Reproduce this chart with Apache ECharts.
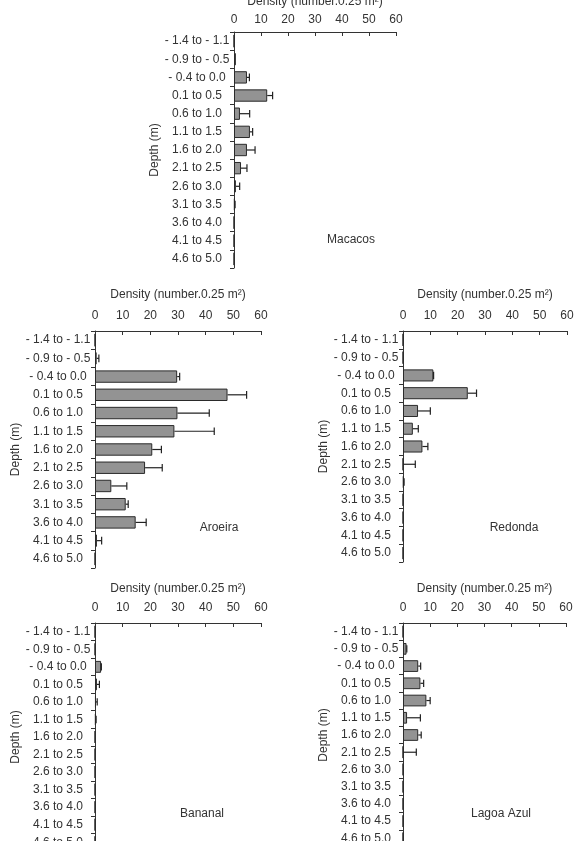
<!DOCTYPE html>
<html>
<head>
<meta charset="utf-8">
<script src="https://cdn.jsdelivr.net/npm/echarts@6/dist/echarts.min.js"></script>
<style>
html,body{margin:0;padding:0;background:#fff;}
#chart{width:577px;height:841px;}
</style>
</head>
<body>
<div id="chart"></div>
<script>
// ---- data ----
const depths = ['- 1.4 to - 1.1', '- 0.9 to - 0.5', '- 0.4 to 0.0', '0.1 to 0.5', '0.6 to 1.0', '1.1 to 1.5', '1.6 to 2.0', '2.1 to 2.5', '2.6 to 3.0', '3.1 to 3.5', '3.6 to 4.0', '4.1 to 4.5', '4.6 to 5.0'];
const xTicks = [0, 10, 20, 30, 40, 50, 60];
const sites = ['Macacos', 'Aroeira', 'Redonda', 'Bananal', 'Lagoa Azul'];

const macacosMean = [0, 0.7, 4.8, 12.3, 2.2, 5.9, 4.8, 2.6, 0.7, 0.3, 0, 0, 0];
const macacosErr  = [0, 0, 0.9, 2.0, 3.6, 1.0, 3.0, 2.2, 1.4, 0.1, 0, 0, 0];

const aroeiraMean = [0, 0.6, 29.7, 47.9, 29.8, 28.7, 20.7, 18.1, 5.9, 11.1, 14.7, 0.7, 0];
const aroeiraErr  = [0, 0.8, 0.9, 6.9, 11.5, 14.4, 3.3, 6.2, 5.6, 0.9, 3.8, 1.7, 0];

const redondaMean = [0, 0, 11.1, 23.7, 5.5, 3.6, 7.1, 0, 0.25, 0, 0, 0, 0];
const redondaErr  = [0, 0, 0.1, 3.2, 4.5, 2.0, 2.0, 4.5, 0.15, 0, 0, 0, 0];

const bananalMean = [0, 0, 2.2, 0.7, 0.35, 0.3, 0, 0, 0, 0, 0, 0, 0];
const bananalErr  = [0, 0, 0.1, 0.9, 0.45, 0.1, 0, 0, 0, 0, 0, 0, 0];

const lagoaMean = [0, 1.3, 5.6, 6.4, 8.6, 1.5, 5.6, 0, 0, 0, 0, 0, 0];
const lagoaErr  = [0, 0.1, 0.9, 1.2, 1.4, 4.9, 1.1, 4.9, 0, 0, 0, 0, 0];

const means = [macacosMean, aroeiraMean, redondaMean, bananalMean, lagoaMean];
const errs = [macacosErr, aroeiraErr, redondaErr, bananalErr, lagoaErr];

// ---- layout ----
const FONT = '"Liberation Sans", Arial, Helvetica, sans-serif';
const TXT = '#333';
const grids = [
  {left: 234, top: 32, width: 162, height: 236, labelMargin: 6, nameGap: 24, yNameGap: 59, siteX: 351, siteY: 240},
  {left: 95, top: 331, width: 166, height: 237, labelMargin: 9, nameGap: 30, yNameGap: 63, siteX: 219, siteY: 528},
  {left: 403, top: 331, width: 164, height: 231, labelMargin: 9, nameGap: 30, yNameGap: 71, siteX: 514, siteY: 528},
  {left: 95, top: 623, width: 166, height: 228, labelMargin: 9, nameGap: 28, yNameGap: 63, siteX: 202, siteY: 814},
  {left: 403, top: 623, width: 163, height: 224, labelMargin: 9, nameGap: 28, yNameGap: 71, siteX: 501, siteY: 814}
];

const option = {
  animation: false,
  backgroundColor: '#fff',
  textStyle: {fontFamily: FONT, color: TXT},
  grid: grids.map(g => ({left: g.left, top: g.top, width: g.width, height: g.height, containLabel: false, outerBoundsMode: 'none'})),
  xAxis: grids.map((g, i) => ({
    gridIndex: i, type: 'value', position: 'top', min: xTicks[0], max: xTicks[xTicks.length - 1], interval: 10,
    name: 'Density (number.0.25 m²)', nameLocation: 'middle', nameGap: g.nameGap,
    nameTextStyle: {fontSize: 12, color: TXT, fontFamily: FONT},
    axisLine: {show: true, lineStyle: {color: '#333', width: 1}},
    axisTick: {show: true, inside: true, length: 4, lineStyle: {color: '#333'}},
    axisLabel: {fontSize: 12, color: TXT, margin: g.labelMargin, fontFamily: FONT},
    splitLine: {show: false}
  })),
  yAxis: grids.map((g, i) => ({
    gridIndex: i, type: 'category', data: depths, inverse: true,
    name: 'Depth (m)', nameLocation: 'middle', nameGap: g.yNameGap, nameRotate: 90,
    nameTextStyle: {fontSize: 12, color: TXT, fontFamily: FONT},
    axisLine: {show: true, lineStyle: {color: '#333', width: 1}},
    axisTick: {show: true, length: 4, lineStyle: {color: '#333'}},
    axisLabel: {fontSize: 12, color: TXT, align: 'center', margin: 37, fontFamily: FONT, interval: 0}
  })),
  graphic: grids.map((g, i) => ({
    type: 'text', x: g.siteX, y: g.siteY,
    style: {text: sites[i], fill: TXT, font: '12px ' + FONT, textAlign: 'center', textVerticalAlign: 'middle'}
  })),
  series: []
};

means.forEach((m, i) => {
  option.series.push({
    type: 'bar', xAxisIndex: i, yAxisIndex: i, data: m, barCategoryGap: '32%',
    itemStyle: {color: '#939393', borderColor: '#2a2a2a', borderWidth: 1}
  });
  option.series.push({
    type: 'custom', xAxisIndex: i, yAxisIndex: i,
    data: m.map((v, k) => [v, k, v + errs[i][k], errs[i][k]]),
    encode: {x: [0, 2], y: 1},
    renderItem: function (params, api) {
      const err = api.value(3);
      if (!(err > 0)) return;
      const cat = api.value(1);
      const p0 = api.coord([api.value(0), cat]);
      const p1 = api.coord([api.value(2), cat]);
      const half = api.size([0, 1])[1] * 0.21;
      const st = {stroke: '#222', lineWidth: 1.2};
      return {
        type: 'group',
        children: [
          {type: 'line', shape: {x1: p0[0], y1: p0[1], x2: p1[0], y2: p1[1]}, style: st},
          {type: 'line', shape: {x1: p1[0], y1: p1[1] - half, x2: p1[0], y2: p1[1] + half}, style: st}
        ]
      };
    },
    z: 3
  });
});

const chart = echarts.init(document.getElementById('chart'), null, {renderer: 'canvas'});
chart.setOption(option);
</script>
</body>
</html>
